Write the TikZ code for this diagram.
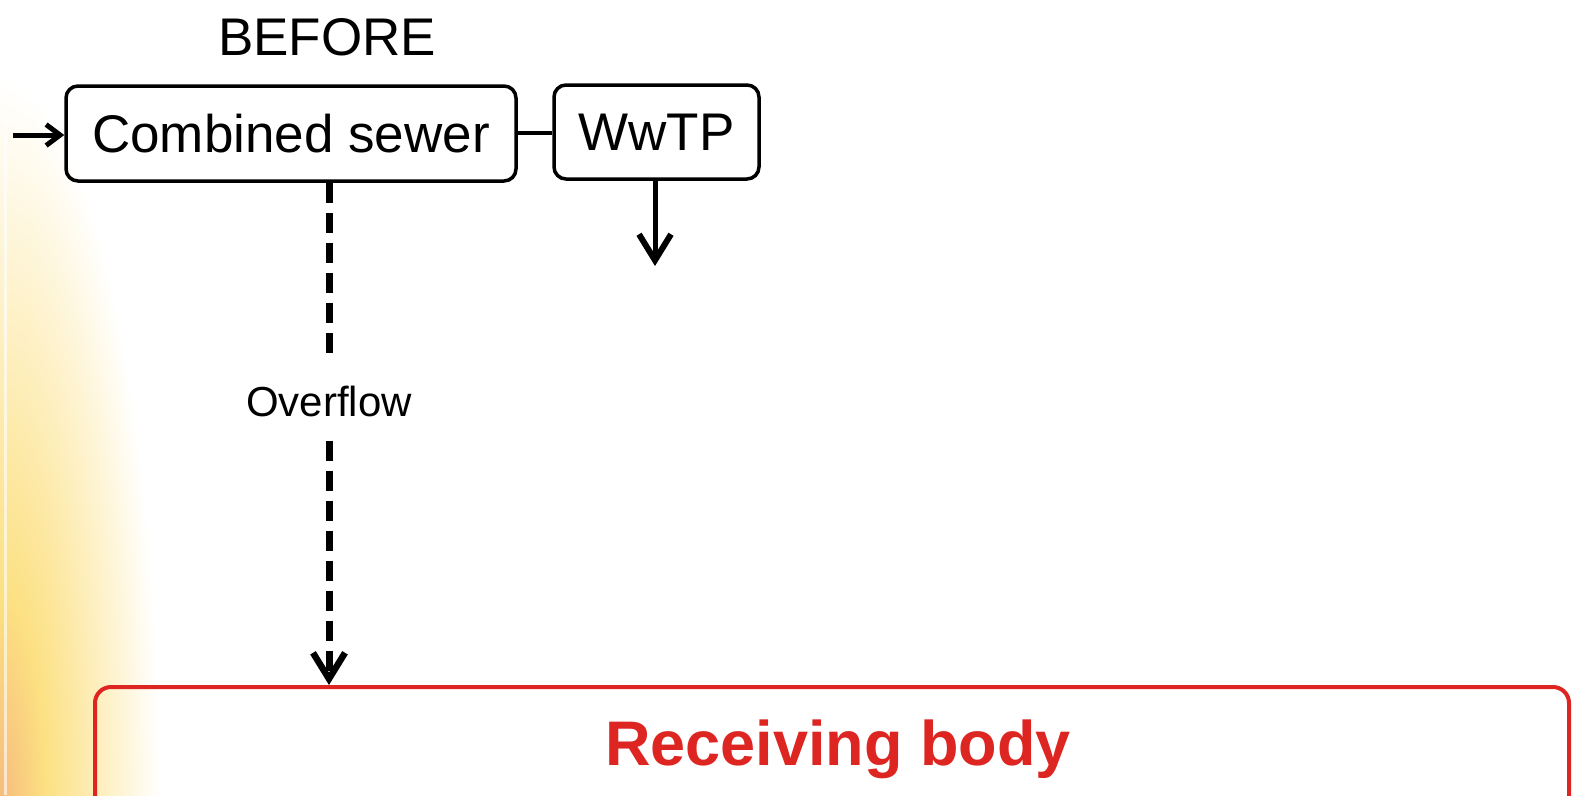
\documentclass[tikz,border=0pt]{standalone}
\usepackage{fontspec}
\setmainfont{Liberation Sans}
\usetikzlibrary{arrows.meta}
\definecolor{bodyred}{RGB}{221,37,33}
\definecolor{glowyellow}{RGB}{252,224,130}
\definecolor{glowor}{RGB}{246,188,125}
\pgfdeclareradialshading{edgeglow}{\pgfpoint{0bp}{0bp}}{%
  color(0bp)=(glowor); color(7bp)=(glowyellow); color(25bp)=(white); color(50bp)=(white)}
\tikzset{
  x=1pt, y=-1pt,
  unit/.style={draw, line width=3.5pt, rounded corners=12pt, inner sep=0pt,
    font=\fontsize{53}{60}\selectfont},
  flow/.style={line width=5pt, -{Straight Barb[length=26pt,width=32pt,line width=6pt]}},
  inflow/.style={line width=5pt, -{Straight Barb[length=14pt,width=21pt,line width=5pt]}},
  spill/.style={line width=7pt, dash pattern=on 20pt off 10pt,
    -{Straight Barb[length=26pt,width=32pt,line width=6.5pt]}},
}
\begin{document}
\begin{tikzpicture}
\useasboundingbox (0,0) rectangle (1573,795);
% soft glow along the left edge
\begin{scope}
\clip (0,0) rectangle (1573,795);
\shade[shading=edgeglow] (0,800) ellipse (160 and 720);
\fill[white, opacity=0.6] (4,0) rectangle (7,795);
\end{scope}

\node[font=\fontsize{53}{60}\selectfont] (title) at (327,37) {BEFORE};

\node[unit, minimum width=450, minimum height=95] (sewer) at (291,133.5) {Combined sewer};
\node[unit, minimum width=205, minimum height=94] (wwtp) at (656.5,132) {WwTP};
\coordinate (inlet) at (13,135);
\coordinate (outlet) at (655,266);

\node[font=\fontsize{42}{48}\selectfont, inner ysep=24pt, inner xsep=0pt] (ov) at (329,401) {Overflow};

\node[draw=bodyred, line width=4pt, rounded corners=16pt,
  minimum width=1474, minimum height=140, inner sep=0pt] (recv) at (832,757) {};
\node[text=bodyred, font=\bfseries\fontsize{63}{70}\selectfont, anchor=base] (recvlabel) at (838,765) {Receiving body};

\draw[inflow] (inlet) -- (sewer.west |- inlet);
\draw[line width=4.5pt] (sewer.east |- 0,133) -- (wwtp.west |- 0,133);
\draw[flow] (wwtp.south -| outlet) -- (outlet);
\draw[line width=7pt, dash pattern=on 20pt off 10pt] (sewer.south -| ov) -- (ov.north);
\draw[spill] (ov.south) -- (recv.north -| ov);
\end{tikzpicture}
\end{document}
